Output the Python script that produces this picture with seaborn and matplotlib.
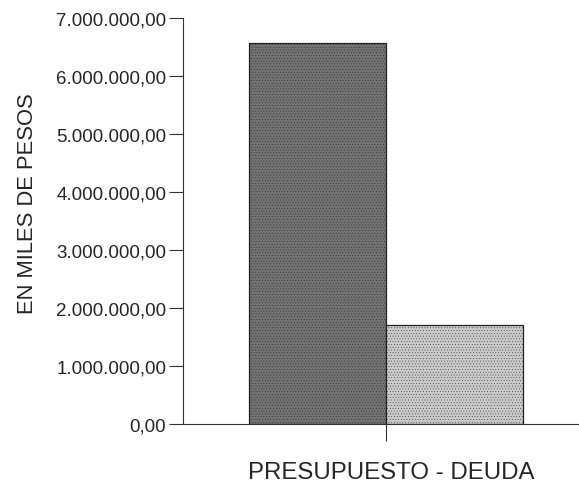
import matplotlib
matplotlib.use("Agg")
import matplotlib.pyplot as plt
import seaborn as sns
import pandas as pd
from matplotlib.ticker import FuncFormatter

# datos
categorias = ["PRESUPUESTO - DEUDA"]
series = ["PRESUPUESTO", "DEUDA"]
valores = [6570000, 1700000]
colores = ["#727272", "#c9c9c9"]
yticks = [0, 1000000, 2000000, 3000000, 4000000, 5000000, 6000000, 7000000]

df = pd.DataFrame({"cat": categorias * len(series), "serie": series, "valor": valores})

sns.set_style("white")
plt.rcParams["font.family"] = ["Liberation Sans", "DejaVu Sans"]
plt.rcParams["hatch.color"] = "#555555"
plt.rcParams["hatch.linewidth"] = 0.2

fig = plt.figure(figsize=(5.79, 4.85), dpi=100)
ax = fig.add_axes([0.316, 0.1237, 0.684, 0.8373])

sns.barplot(data=df, x="cat", y="valor", hue="serie", palette=colores,
            edgecolor="#222222", linewidth=0.9, width=0.8, legend=False, ax=ax)
for p in ax.patches:
    p.set_hatch("......")

ax.set_ylim(0, 7000000)
ax.set_xlim(-0.593, 0.563)
ax.set_yticks(yticks)
ax.yaxis.set_major_formatter(FuncFormatter(
    lambda v, pos: f"{v:,.2f}".replace(",", "X").replace(".", ",").replace("X", ".")))
ax.set_xticks([0])
ax.set_xticklabels([""])
ax.tick_params(axis="y", left=True, length=10, width=0.8, color="#333333", labelsize=13.5, pad=2)
ax.tick_params(axis="x", bottom=True, length=12, width=0.8, color="#333333")

for s in ["top", "right"]:
    ax.spines[s].set_visible(False)
for s in ["left", "bottom"]:
    ax.spines[s].set_color("#333333")
    ax.spines[s].set_linewidth(0.8)

ax.set_ylabel("EN MILES DE PESOS", fontsize=15.8)
ax.yaxis.set_label_coords(-0.365, 0.545)
ax.set_xlabel("PRESUPUESTO - DEUDA", fontsize=17.3)
ax.xaxis.set_label_coords(0.526, -0.091)

fig.savefig("out.png", dpi=100)
